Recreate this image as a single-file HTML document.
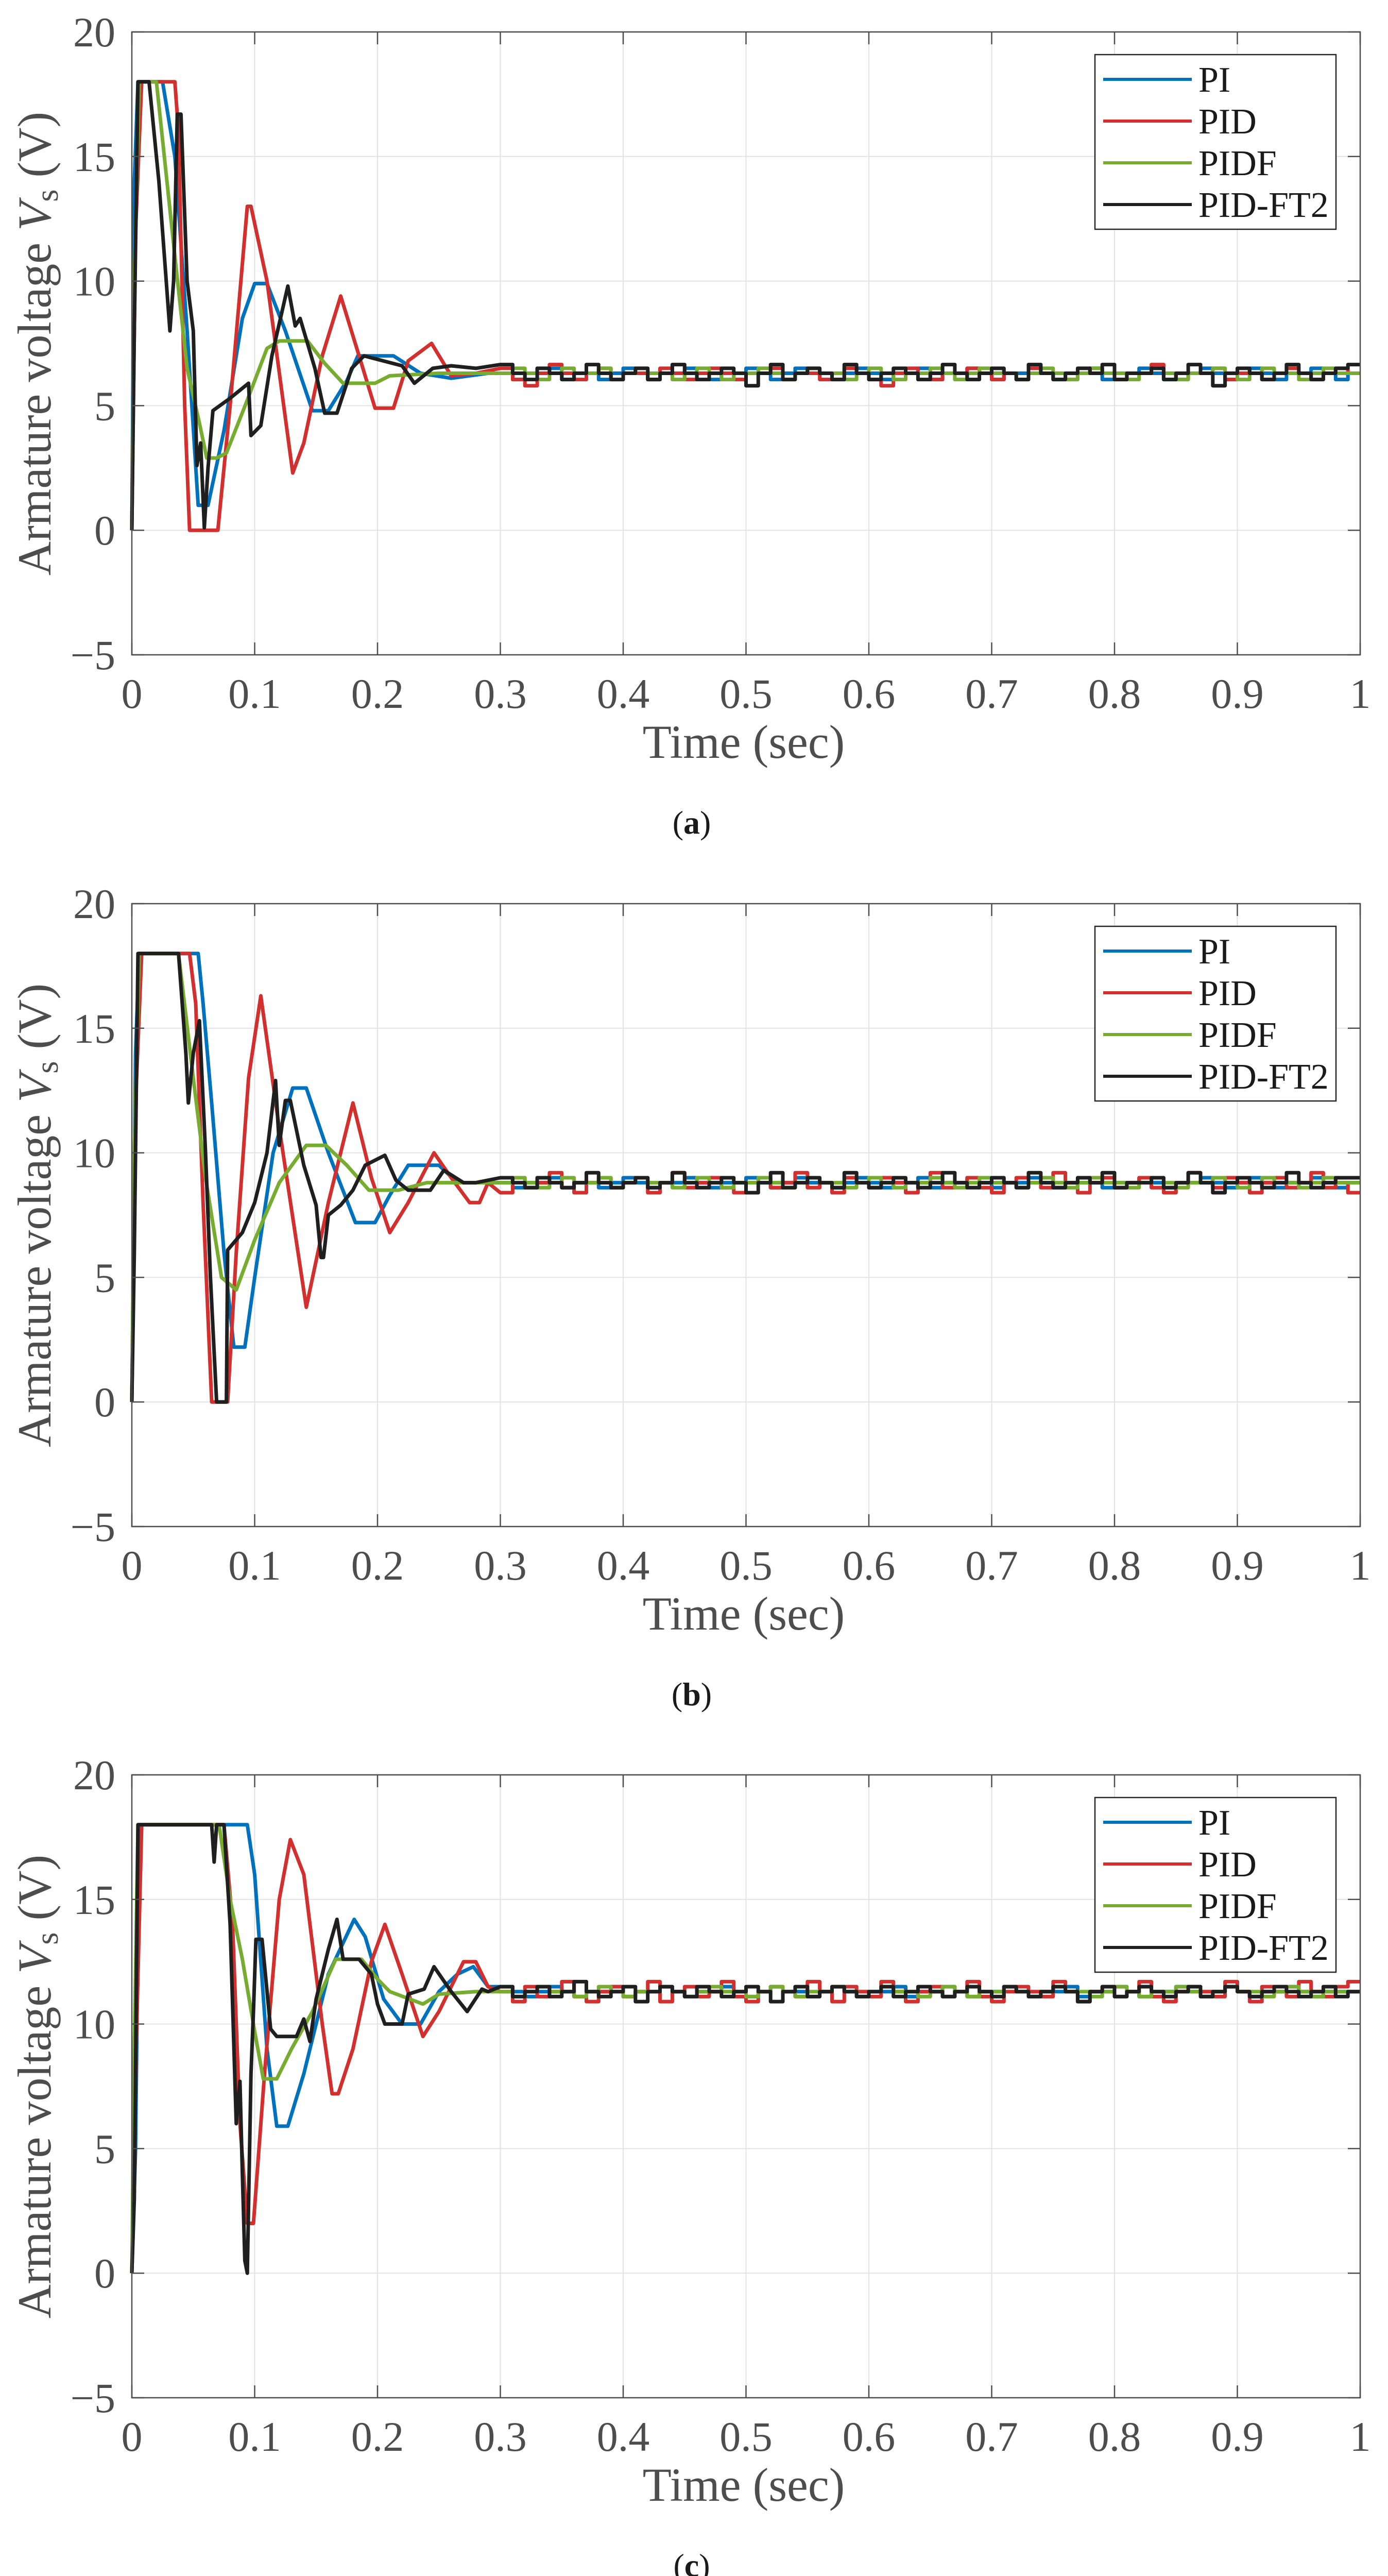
<!DOCTYPE html>
<html><head><meta charset="utf-8"><title>Armature voltage responses</title>
<style>
html,body{margin:0;padding:0;background:#fff;width:2695px;height:5046px;overflow:hidden;}
svg{display:block;}
text{font-family:"Liberation Serif","DejaVu Serif",serif;}
</style></head>
<body>
<svg id="fig" xmlns="http://www.w3.org/2000/svg" width="2695" height="5046" viewBox="0 0 2695 5046" overflow="hidden"></svg>
<script>
// ---- shared axis data ----
const xTicks = [0,0.1,0.2,0.3,0.4,0.5,0.6,0.7,0.8,0.9,1];
const xTickLabels = ["0","0.1","0.2","0.3","0.4","0.5","0.6","0.7","0.8","0.9","1"];
const yTicks = [-5,0,5,10,15,20];
const yTickLabels = ["\u22125","0","5","10","15","20"];
const seriesNames = ["PI","PID","PIDF","PID-FT2"];
const panelLabels = ["a","b","c"];
const steadyStart = 0.30, steadyStep = 0.01;

// ---- panel (a) transient ----
const tPI_a = [0,0.002,0.005,0.025,0.035,0.045,0.054,0.062,0.075,0.09,0.1,0.11,0.125,0.147,0.16,0.175,0.184,0.213,0.235,0.26,0.29];
const vPI_a = [0,14,18,18,15,8,1,1,4,8.5,9.9,9.9,8,4.8,4.8,6,7,7,6.3,6.1,6.3];
const tPID_a = [0,0.003,0.008,0.035,0.038,0.043,0.047,0.07,0.08,0.094,0.097,0.11,0.131,0.14,0.155,0.17,0.185,0.198,0.213,0.225,0.244,0.26,0.28];
const vPID_a = [0,12,18,18,16,5,0,0,5,13,13,10,2.3,3.5,7,9.4,7,4.9,4.9,6.8,7.5,6.2,6.3];
const tPIDF_a = [0,0.002,0.006,0.02,0.035,0.045,0.055,0.061,0.069,0.077,0.093,0.1,0.11,0.12,0.143,0.157,0.172,0.198,0.21,0.25,0.29];
const vPIDF_a = [0,10,18,18,11,6.5,4.3,2.9,2.9,3.1,5.1,6,7.3,7.6,7.6,6.7,5.9,5.9,6.2,6.3,6.3];
const tFT2_a = [0,0.002,0.005,0.014,0.022,0.031,0.034,0.037,0.04,0.045,0.05,0.053,0.056,0.059,0.062,0.066,0.08,0.095,0.097,0.105,0.114,0.127,0.133,0.137,0.149,0.157,0.167,0.179,0.189,0.22,0.23,0.245,0.26,0.28];
const vFT2_a = [0,8,18,18,14,8,10,16.7,16.7,10,8,2.6,3.5,0.1,2.5,4.8,5.3,5.9,3.8,4.2,7,9.8,8.2,8.5,6.5,4.7,4.7,6.5,7,6.6,5.9,6.5,6.6,6.5];
// ---- panel (a) steady state (0.30 .. 1.00, every 0.01 s) ----
const sPI_a = [6.3,6.05,6.3,6.3,6.5,6.05,6.3,6.3,6.05,6.3,6.5,6.3,6.05,6.3,6.3,6.5,6.3,6.05,6.3,6.3,6.5,6.3,6.05,6.3,6.5,6.3,6.3,6.05,6.3,6.5,6.3,6.05,6.3,6.3,6.5,6.05,6.3,6.3,6.5,6.3,6.05,6.3,6.3,6.5,6.3,6.05,6.3,6.3,6.5,6.05,6.3,6.3,6.5,6.3,6.05,6.3,6.3,6.5,6.3,6.05,6.3,6.5,6.3,6.05,6.3,6.3,6.5,6.3,6.05,6.3,6.3];
const sPID_a = [6.5,6.05,5.8,6.3,6.65,6.3,6.05,6.3,6.5,6.05,6.3,6.3,6.05,6.5,6.3,6.05,6.3,6.5,6.3,6.05,6.3,6.3,6.5,6.05,6.3,6.3,6.05,6.3,6.5,6.3,6.05,5.8,6.3,6.5,6.3,6.05,6.3,6.3,6.5,6.3,6.05,6.3,6.05,6.5,6.3,6.3,6.05,6.3,6.5,6.3,6.05,6.3,6.3,6.65,6.3,6.05,6.3,6.3,6.5,6.05,6.3,6.3,6.05,6.3,6.5,6.3,6.05,6.3,6.5,6.3,6.3];
const sPIDF_a = [6.3,6.5,6.3,6.05,6.3,6.5,6.3,6.3,6.5,6.05,6.3,6.5,6.3,6.3,6.05,6.3,6.5,6.3,6.05,6.3,6.3,6.5,6.3,6.05,6.3,6.5,6.3,6.3,6.05,6.3,6.5,6.3,6.05,6.3,6.3,6.5,6.3,6.05,6.3,6.5,6.3,6.3,6.05,6.3,6.5,6.3,6.05,6.3,6.5,6.3,6.3,6.05,6.3,6.5,6.3,6.05,6.3,6.3,6.5,6.3,6.05,6.3,6.5,6.3,6.3,6.05,6.3,6.5,6.3,6.3,6.3];
const sFT2_a = [6.65,6.3,6.05,6.5,6.3,6.05,6.3,6.65,6.3,6.05,6.3,6.5,6.05,6.3,6.65,6.3,6.05,6.3,6.5,6.3,5.8,6.3,6.65,6.05,6.3,6.5,6.3,6.05,6.65,6.3,6.05,6.3,6.5,6.3,6.05,6.3,6.65,6.3,6.05,6.3,6.5,6.3,6.05,6.65,6.3,6.05,6.3,6.5,6.3,6.65,6.05,6.3,6.3,6.5,6.05,6.3,6.65,6.3,5.8,6.3,6.5,6.3,6.05,6.3,6.65,6.3,6.05,6.3,6.5,6.65,6.5];

// ---- panel (b) transient ----
const tPI_b = [0,0.003,0.006,0.05,0.054,0.058,0.065,0.075,0.083,0.092,0.1,0.115,0.131,0.142,0.16,0.182,0.198,0.21,0.225,0.25,0.265,0.28];
const vPI_b = [0,14,18,18,18,16,12,6,2.2,2.2,5,10,12.6,12.6,10,7.2,7.2,8.3,9.5,9.5,8.8,8.8];
const tPID_b = [0,0.003,0.008,0.047,0.052,0.058,0.065,0.078,0.085,0.095,0.105,0.12,0.142,0.16,0.18,0.195,0.21,0.225,0.246,0.26,0.275,0.283,0.29];
const vPID_b = [0,12,18,18,16,8,0,0,6,13,16.3,11,3.8,8,12,9,6.8,8,10,9,8,8,8.8];
const tPIDF_b = [0,0.002,0.006,0.038,0.05,0.06,0.073,0.085,0.1,0.12,0.142,0.158,0.175,0.193,0.217,0.24,0.28];
const vPIDF_b = [0,10,18,18,13,9,5,4.5,6.5,8.8,10.3,10.3,9.5,8.5,8.5,8.8,8.8];
const tFT2_b = [0,0.002,0.005,0.038,0.044,0.046,0.05,0.055,0.06,0.064,0.069,0.077,0.078,0.09,0.1,0.11,0.117,0.12,0.125,0.129,0.14,0.15,0.154,0.156,0.16,0.17,0.18,0.19,0.206,0.215,0.225,0.243,0.254,0.27,0.28];
const vFT2_b = [0,6,18,18,14,12,14,15.3,10,5,0,0,6.1,6.8,8,10,12.9,10.3,12.1,12.1,9.5,7.9,5.8,5.8,7.5,7.9,8.5,9.5,9.9,8.9,8.5,8.5,9.3,8.8,8.8];
// ---- panel (b) steady ----
const sPI_b = [8.8,8.6,8.8,8.8,9.0,8.6,8.8,8.8,8.6,8.8,9.0,8.8,8.6,8.8,8.8,9.0,8.8,8.6,8.8,8.8,9.0,8.8,8.6,8.8,9.0,8.8,8.8,8.6,8.8,9.0,8.8,8.6,8.8,8.8,9.0,8.6,8.8,8.8,9.0,8.8,8.6,8.8,8.8,9.0,8.8,8.6,8.8,8.8,9.0,8.6,8.8,8.8,9.0,8.8,8.6,8.8,8.8,9.0,8.8,8.6,8.8,9.0,8.8,8.6,8.8,8.8,9.0,8.8,8.6,8.8,8.8];
const sPID_b = [8.4,9.0,8.6,8.8,9.2,8.6,8.4,8.8,9.0,8.6,8.8,9.0,8.4,8.8,9.2,8.6,8.8,9.0,8.6,8.4,8.8,9.0,8.6,8.8,9.2,8.6,8.8,8.4,9.0,8.8,8.6,9.0,8.8,8.4,8.8,9.2,8.6,8.8,9.0,8.6,8.4,8.8,9.0,8.8,8.6,9.2,8.8,8.4,8.8,9.0,8.6,8.8,9.0,8.6,8.4,8.8,9.2,8.8,8.6,9.0,8.8,8.4,8.8,9.0,8.6,8.8,9.2,8.6,8.8,8.4,8.4];
const sPIDF_b = [8.8,9.0,8.8,8.6,8.8,9.0,8.8,8.8,9.0,8.6,8.8,9.0,8.8,8.8,8.6,8.8,9.0,8.8,8.6,8.8,8.8,9.0,8.8,8.6,8.8,9.0,8.8,8.8,8.6,8.8,9.0,8.8,8.6,8.8,8.8,9.0,8.8,8.6,8.8,9.0,8.8,8.8,8.6,8.8,9.0,8.8,8.6,8.8,9.0,8.8,8.8,8.6,8.8,9.0,8.8,8.6,8.8,8.8,9.0,8.8,8.6,8.8,9.0,8.8,8.8,8.6,8.8,9.0,8.8,8.8,8.8];
const sFT2_b = [9.0,8.8,8.6,9.0,8.8,8.6,8.8,9.2,8.8,8.6,8.8,9.0,8.6,8.8,9.2,8.8,8.6,8.8,9.0,8.8,8.4,8.8,9.2,8.6,8.8,9.0,8.8,8.6,9.2,8.8,8.6,8.8,9.0,8.8,8.6,8.8,9.2,8.8,8.6,8.8,9.0,8.8,8.6,9.2,8.8,8.6,8.8,9.0,8.8,9.2,8.6,8.8,8.8,9.0,8.6,8.8,9.2,8.8,8.4,8.8,9.0,8.8,8.6,8.8,9.2,8.8,8.6,8.8,9.0,9.0,8.8];

// ---- panel (c) transient ----
const tPI_c = [0,0.003,0.006,0.094,0.1,0.11,0.118,0.127,0.14,0.16,0.181,0.19,0.205,0.22,0.235,0.25,0.265,0.278,0.29];
const vPI_c = [0,5,18,18,16,9,5.9,5.9,8,12,14.2,13.5,11,10,10,11.3,12,12.3,11.5];
const tPID_c = [0,0.003,0.008,0.075,0.082,0.088,0.094,0.099,0.108,0.12,0.129,0.14,0.155,0.163,0.168,0.18,0.195,0.206,0.22,0.237,0.25,0.27,0.28,0.29];
const vPID_c = [0,8,18,18,14,6,2,2,8,15,17.4,16,10,7.2,7.2,9,12.5,14,12,9.5,10.5,12.5,12.5,11.5];
const tPIDF_c = [0,0.002,0.005,0.071,0.08,0.09,0.1,0.107,0.118,0.13,0.147,0.166,0.187,0.2,0.21,0.237,0.25,0.28];
const vPIDF_c = [0,9,18,18,15,12.6,9.7,7.8,7.8,9,10.5,12.6,12.6,11.8,11.3,10.8,11.2,11.3];
const tFT2_c = [0,0.002,0.005,0.065,0.067,0.069,0.075,0.08,0.085,0.088,0.09,0.092,0.094,0.097,0.099,0.101,0.106,0.113,0.118,0.134,0.14,0.145,0.15,0.16,0.167,0.172,0.185,0.195,0.2,0.206,0.22,0.225,0.238,0.246,0.26,0.273,0.285,0.29];
const vFT2_c = [0,3,18,18,16.5,18,18,14,6,7.7,4,0.5,0,8,10.5,13.4,13.4,9.8,9.5,9.5,10.2,9.3,11,13,14.2,12.6,12.6,12,10.8,10,10,11.2,11.4,12.3,11.3,10.5,11.4,11.3];
// ---- panel (c) steady ----
const sPI_c = [11.5,11.3,11.1,11.3,11.5,11.3,11.1,11.3,11.3,11.5,11.1,11.3,11.3,11.5,11.3,11.1,11.3,11.3,11.5,11.3,11.1,11.3,11.5,11.3,11.3,11.1,11.3,11.5,11.3,11.1,11.3,11.3,11.5,11.1,11.3,11.3,11.5,11.3,11.1,11.3,11.3,11.5,11.3,11.1,11.3,11.3,11.5,11.1,11.3,11.3,11.5,11.3,11.1,11.3,11.3,11.5,11.3,11.1,11.3,11.5,11.3,11.1,11.3,11.3,11.5,11.3,11.1,11.3,11.3,11.3,11.3];
const sPID_c = [11.3,10.9,11.5,11.1,11.3,11.7,11.1,10.9,11.3,11.5,11.1,11.3,11.7,10.9,11.3,11.5,11.1,11.3,11.7,11.1,10.9,11.3,11.5,11.3,11.1,11.7,11.3,10.9,11.5,11.3,11.1,11.7,11.3,10.9,11.3,11.5,11.1,11.3,11.7,11.1,10.9,11.3,11.5,11.3,11.1,11.7,11.3,10.9,11.3,11.5,11.1,11.3,11.7,11.1,10.9,11.3,11.5,11.3,11.1,11.7,11.3,10.9,11.5,11.3,11.1,11.7,11.3,11.1,11.5,11.7,11.3];
const sPIDF_c = [11.3,11.1,11.3,11.5,11.3,11.3,11.1,11.3,11.5,11.3,11.1,11.3,11.3,11.5,11.3,11.1,11.3,11.5,11.3,11.3,11.1,11.3,11.5,11.3,11.1,11.3,11.3,11.5,11.3,11.1,11.3,11.5,11.3,11.3,11.1,11.3,11.5,11.3,11.1,11.3,11.3,11.5,11.3,11.1,11.3,11.5,11.3,11.3,11.1,11.3,11.5,11.3,11.1,11.3,11.3,11.5,11.3,11.1,11.3,11.5,11.3,11.3,11.1,11.3,11.5,11.3,11.1,11.3,11.3,11.3,11.3];
const sFT2_c = [11.5,11.1,11.3,11.5,11.1,11.3,11.7,11.3,11.1,11.3,11.5,10.9,11.3,11.5,11.3,11.1,11.5,11.3,11.1,11.3,11.5,11.3,10.9,11.3,11.5,11.1,11.3,11.5,11.3,11.1,11.3,11.5,11.1,11.3,11.5,11.3,11.1,11.3,11.5,11.3,11.1,11.5,11.3,11.1,11.3,11.5,11.3,10.9,11.3,11.5,11.1,11.3,11.5,11.3,11.1,11.3,11.5,11.1,11.3,11.5,11.3,11.1,11.3,11.5,11.3,11.1,11.3,11.5,11.1,11.3,11.5];

const panelSeries = [
  [[tPI_a,vPI_a,sPI_a],[tPID_a,vPID_a,sPID_a],[tPIDF_a,vPIDF_a,sPIDF_a],[tFT2_a,vFT2_a,sFT2_a]],
  [[tPI_b,vPI_b,sPI_b],[tPID_b,vPID_b,sPID_b],[tPIDF_b,vPIDF_b,sPIDF_b],[tFT2_b,vFT2_b,sFT2_b]],
  [[tPI_c,vPI_c,sPI_c],[tPID_c,vPID_c,sPID_c],[tPIDF_c,vPIDF_c,sPIDF_c],[tFT2_c,vFT2_c,sFT2_c]]
];
const colors = ["#0072BD","#D1302F","#77AC30","#1F1F1F"];

const NS = "http://www.w3.org/2000/svg";
const svg = document.getElementById("fig");
function mk(tag, attrs, parent){
  const e = document.createElementNS(NS, tag);
  for (const k in attrs) e.setAttribute(k, attrs[k]);
  (parent||svg).appendChild(e);
  return e;
}
const X0 = 256, X1 = 2641, PH = 1209;
const panelTops = [62, 1754, 3445];

panelTops.forEach((T, p) => {
  const B = T + PH;
  const xs = t => X0 + (t - 0) / (1 - 0) * (X1 - X0);
  const ys = v => B - (v - (-5)) / (20 - (-5)) * PH;

  const g = mk("g", {});
  
  

  const grid = mk("g", {stroke:"#e3e3e3", "stroke-width":"2"}, g);
  
  
  xTicks.forEach(t => mk("line", {x1:xs(t), x2:xs(t), y1:T, y2:B}, grid));
  yTicks.forEach(v => mk("line", {x1:X0, x2:X1, y1:ys(v), y2:ys(v)}, grid));

  panelSeries[p].forEach((s, i) => {
    const [tt, vv, ss] = s;
    let d = "";
    tt.forEach((t, k) => { d += (k ? "L" : "M") + xs(t).toFixed(1) + "," + ys(vv[k]).toFixed(1); });
    ss.forEach((v, k) => {
      const t0 = steadyStart + k * steadyStep;
      if (t0 >= 1) return;
      const t1 = Math.min(1, t0 + steadyStep);
      d += "L" + xs(t0).toFixed(1) + "," + ys(v).toFixed(1) + "L" + xs(t1).toFixed(1) + "," + ys(v).toFixed(1);
    });
    const path = mk("path", {d:d, fill:"none", stroke:colors[i], "stroke-width":"7", "stroke-linejoin":"round"}, g);
    
    
  });

  const ax = mk("g", {stroke:"#4d4d4d", "stroke-width":"2.5", fill:"none"}, g);
  
  
  mk("rect", {x:X0, y:T, width:X1-X0, height:PH}, ax);
  xTicks.forEach(t => { mk("line",{x1:xs(t),x2:xs(t),y1:B,y2:B-24},ax); mk("line",{x1:xs(t),x2:xs(t),y1:T,y2:T+24},ax); });
  yTicks.forEach(v => { mk("line",{x1:X0,x2:X0+24,y1:ys(v),y2:ys(v)},ax); mk("line",{x1:X1,x2:X1-24,y1:ys(v),y2:ys(v)},ax); });

  xTicks.forEach((t, k) => {
    const tx = mk("text", {x:xs(t), y:B+103, "text-anchor":"middle", "font-size":"82", fill:"#4d4d4d"}, g);
    tx.textContent = xTickLabels[k];
    
    
  });
  yTicks.forEach((v, k) => {
    const tx = mk("text", {x:224, y:ys(v)+28, "text-anchor":"end", "font-size":"82", fill:"#4d4d4d"}, g);
    tx.textContent = yTickLabels[k];
    
    
  });

  const xt = mk("text", {x:1444, y:B+200, "text-anchor":"middle", "font-size":"92", fill:"#4d4d4d"}, g);
  xt.textContent = "Time (sec)";
  
  
  const yt = mk("text", {x:0, y:0, "text-anchor":"middle", "font-size":"92", fill:"#4d4d4d", transform:"translate(98," + (T+605) + ") rotate(-90)"}, g);
  yt.innerHTML = 'Armature voltage <tspan font-style="italic">V</tspan><tspan font-size="62" dy="14">s</tspan><tspan dy="-14"> (V)</tspan>';
  
  

  const lg = mk("g", {}, g);
  
  
  mk("rect", {x:2126, y:T+44, width:468, height:339, fill:"#fff", stroke:"#262626", "stroke-width":"2.5"}, lg);
  seriesNames.forEach((n, i) => {
    const yy = T + 92 + i * 81;
    const le = mk("g", {}, lg);
    
    
    mk("line", {x1:2142, x2:2314, y1:yy, y2:yy, stroke:colors[i], "stroke-width":"6"}, le);
    const tx = mk("text", {x:2327, y:yy+24, "font-size":"70", fill:"#1a1a1a"}, le);
    tx.textContent = n;
  });

  const cap = mk("text", {x:1343, y:T+1556, "text-anchor":"middle", "font-size":"64", fill:"#1a1a1a"}, g);
  cap.innerHTML = '(<tspan font-weight="bold">' + panelLabels[p] + '</tspan>)';
  
  
});
</script>
</body></html>
